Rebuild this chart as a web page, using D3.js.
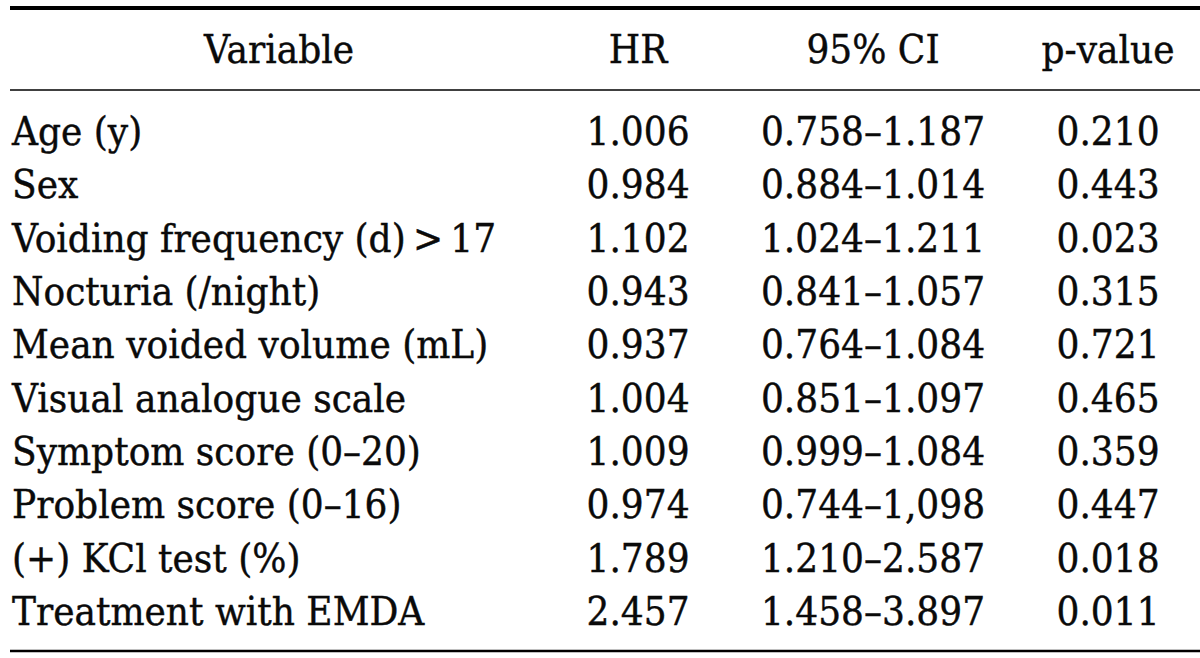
<!DOCTYPE html>
<html>
<head>
<meta charset="utf-8">
<script src="https://cdn.jsdelivr.net/npm/d3@7"></script>
<style>
  html, body { margin: 0; padding: 0; background: #fff; }
  svg { display: block; }
  text { font-family: "DejaVu Serif", serif; fill: #0a0a0a; stroke: #0a0a0a; stroke-width: 0.45px; }
</style>
</head>
<body>
<svg id="chart" width="1200" height="658"></svg>
<script>
// ---- data ----
const headers = ["Variable", "HR", "95% CI", "p-value"];
const variables = [
  "Age (y)",
  "Sex",
  "Voiding frequency (d)\u2009>\u200917",
  "Nocturia (/night)",
  "Mean voided volume (mL)",
  "Visual analogue scale",
  "Symptom score (0\u201320)",
  "Problem score (0\u201316)",
  "(+) KCl test (%)",
  "Treatment with EMDA"
];
const hr = ["1.006", "0.984", "1.102", "0.943", "0.937", "1.004", "1.009", "0.974", "1.789", "2.457"];
const ci = ["0.758\u20131.187", "0.884\u20131.014", "1.024\u20131.211", "0.841\u20131.057", "0.764\u20131.084",
            "0.851\u20131.097", "0.999\u20131.084", "0.744\u20131,098", "1.210\u20132.587", "1.458\u20133.897"];
const pvals = ["0.210", "0.443", "0.023", "0.315", "0.721", "0.465", "0.359", "0.447", "0.018", "0.011"];

// ---- layout ----
const W = 1200, H = 658;
const fontSize = 40, sx = 0.9;
const svg = d3.select("#chart");

const y = d3.scalePoint().domain(variables).range([145, 625]);
const numCols = ["HR", "95% CI", "p-value"];
const x = d3.scalePoint().domain(numCols).range([638, 1108]);
const leftX = 12, varHeaderX = 279, headerY = 63;

// rules
svg.append("line").attr("x1", 10).attr("x2", W).attr("y1", 8).attr("y2", 8)
  .attr("stroke", "#000").attr("stroke-width", 4);
svg.append("line").attr("x1", 10).attr("x2", W).attr("y1", 90).attr("y2", 90)
  .attr("stroke", "#000").attr("stroke-width", 1.6);
svg.append("line").attr("x1", 10).attr("x2", W).attr("y1", 651).attr("y2", 651)
  .attr("stroke", "#000").attr("stroke-width", 2.6);

function put(g, tx, ty, str, anchor) {
  g.append("g")
    .attr("transform", `translate(${tx},${ty}) scale(${sx},1)`)
    .append("text")
    .attr("text-anchor", anchor)
    .attr("font-size", fontSize)
    .text(str);
}

const gH = svg.append("g").attr("class", "header");
put(gH, varHeaderX, headerY, headers[0], "middle");
numCols.forEach(c => put(gH, x(c), headerY, c, "middle"));

const gB = svg.append("g").attr("class", "body");
variables.forEach((v, i) => {
  put(gB, leftX, y(v), v, "start");
  put(gB, x("HR"), y(v), hr[i], "middle");
  put(gB, x("95% CI"), y(v), ci[i], "middle");
  put(gB, x("p-value"), y(v), pvals[i], "middle");
});
</script>
</body>
</html>
